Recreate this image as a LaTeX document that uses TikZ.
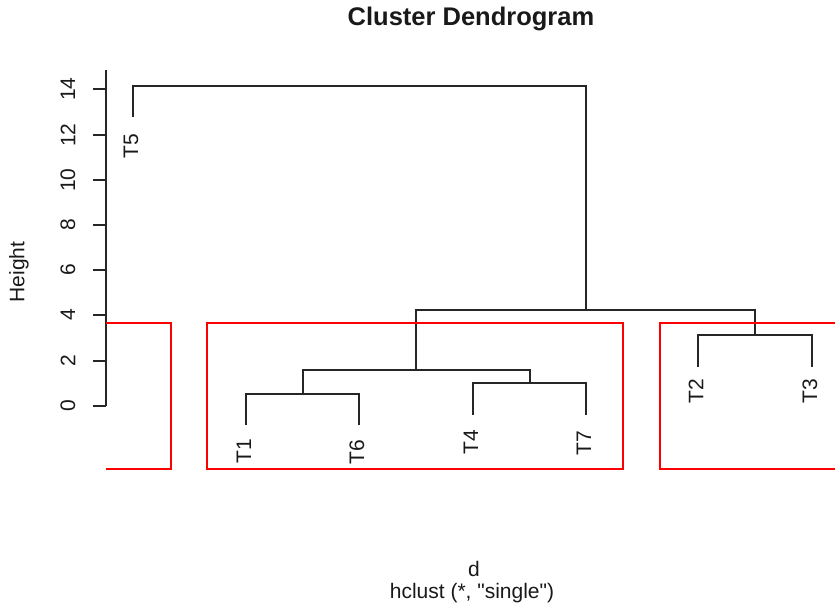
\documentclass[tikz,border=0pt]{standalone}
\usepackage{fontspec}
\setmainfont{Liberation Sans}[Ligatures=TeXOff]
\begin{document}
\begin{tikzpicture}[x=1pt,y=-1pt,
  tree/.style={line width=1.6pt, draw=black!85, line cap=rect},
  redbox/.style={draw=red, line width=1.8pt},
  axisline/.style={line width=1.6pt, draw=black!85},
  base/.style={inner sep=0pt, font=\fontsize{21}{25}\selectfont, text=black!90},
  leaflab/.style={base, rotate=90, anchor=west},
  ticklab/.style={base, rotate=90, anchor=center}]
\useasboundingbox (0,0) rectangle (835,607);
% leaves
\coordinate (T5) at (133,116);
\coordinate (T1) at (246,424);
\coordinate (T6) at (359,424);
\coordinate (T4) at (473,414);
\coordinate (T7) at (586,414);
\coordinate (T2) at (698,366);
\coordinate (T3) at (812,366);
% merges
\coordinate (m16) at (303,394);
\coordinate (m47) at (530,383);
\coordinate (mL) at (416,370);
\coordinate (m23) at (755,335);
\coordinate (mR) at (586,310);
\coordinate (root) at (359,86);
% tree
\draw[tree] (T1) |- (m16) -| (T6);
\draw[tree] (T4) |- (m47) -| (T7);
\draw[tree] (m16) |- (mL) -| (m47);
\draw[tree] (T2) |- (m23) -| (T3);
\draw[tree] (mL) |- (mR) -| (m23);
\draw[tree] (T5) |- (root) -| (mR);
% leaf labels
\node[leaflab] (lT5) at (131,159) {T5};
\node[leaflab] (lT1) at (244,464) {T1};
\node[leaflab] (lT6) at (357,465) {T6};
\node[leaflab] (lT4) at (471,455) {T4};
\node[leaflab] (lT7) at (584,456) {T7};
\node[leaflab] (lT2) at (696,404) {T2};
\node[leaflab] (lT3) at (810,404) {T3};
% axis
\coordinate (axtop) at (106,70);
\coordinate (axbot) at (106,406);
\draw[axisline] (axtop) -- (axbot);
\foreach \v in {0,2,...,14}{
  \pgfmathsetmacro{\yy}{round(405.7-22.586*\v)}
  \draw[axisline] (93,\yy) -- (106,\yy);
  \node[ticklab] at (68,\yy) {\v};
}
\node[ticklab] (ylab) at (19,272) {Height};
% titles
\node[base, font=\bfseries\fontsize{25.5}{30}\selectfont] (title) at (471,19) {Cluster Dendrogram};
\node[base] (sub1) at (474,569) {d};
\node[base] (sub2) at (472,593) {hclust (*, "single")};
% red boxes
\draw[redbox] (106,323) -- (171,323) -- (171,469) -- (106,469);
\draw[redbox] (207,323) rectangle (623,469);
\draw[redbox] (840,323) -- (660,323) -- (660,469) -- (840,469);
\end{tikzpicture}
\end{document}
